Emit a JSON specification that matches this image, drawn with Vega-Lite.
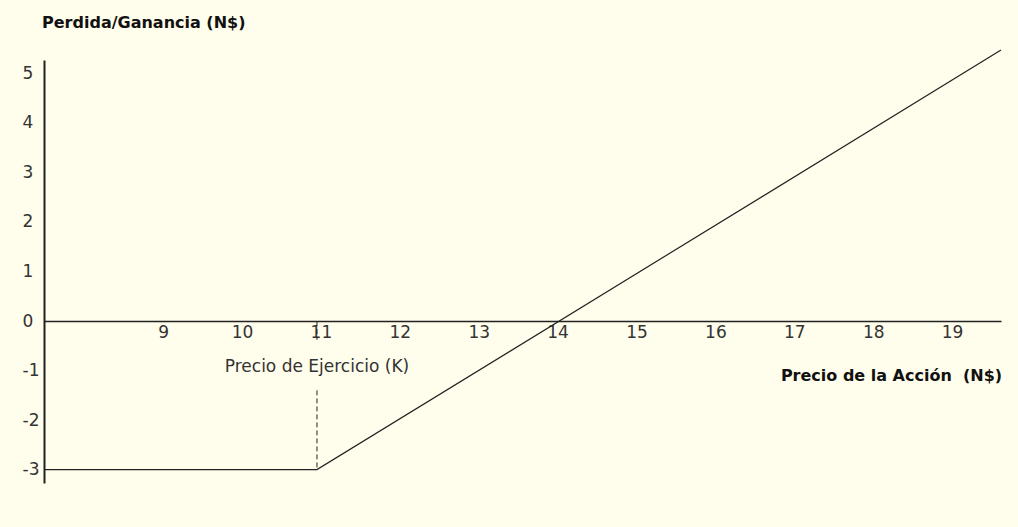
{
  "$schema": "https://vega.github.io/schema/vega-lite/v6.json",
  "width": 957,
  "height": 423,
  "autosize": {"type": "none"},
  "padding": {"left": 44, "top": 60, "right": 17, "bottom": 44},
  "background": "#FFFDEB",
  "config": {"view": {"stroke": null}, "font": "DejaVu Sans"},
  "datasets": {
    "payoff": [
      {"precio": 7.49, "pg": -3},
      {"precio": 10.95, "pg": -3},
      {"precio": 19.62, "pg": 5.47}
    ],
    "strike": [
      {"precio": 10.95, "y1": 0, "y2": -0.38},
      {"precio": 10.95, "y1": -1.4, "y2": -2.98}
    ],
    "labels_center": [
      {"precio": 10.95, "pg": -0.93, "texto": "Precio de Ejercicio (K)"}
    ],
    "labels_bold": [
      {"precio": 7.465, "pg": 6.02, "texto": "Perdida/Ganancia (N$)"},
      {"precio": 16.83, "pg": -1.11, "texto": "Precio de la Acción\u00a0 (N$)"}
    ]
  },
  "layer": [
    {
      "data": {"name": "payoff"},
      "mark": {"type": "line", "color": "#222222", "strokeWidth": 1.2},
      "encoding": {
        "x": {
          "field": "precio",
          "type": "quantitative",
          "scale": {"domain": [7.49, 19.62], "nice": false, "zero": false},
          "axis": {
            "orient": "bottom",
            "offset": -162,
            "values": [9, 10, 11, 12, 13, 14, 15, 16, 17, 18, 19],
            "labelExpr": "'' + datum.value",
            "domainColor": "#222222",
            "domainWidth": 1.5,
            "ticks": false,
            "tickSize": 0,
            "grid": false,
            "title": null,
            "labelFontSize": 17,
            "labelPadding": 3,
            "labelColor": "#333333",
            "labelFlush": false
          }
        },
        "y": {
          "field": "pg",
          "type": "quantitative",
          "scale": {"domain": [-3.27, 5.27], "nice": false, "zero": false},
          "axis": {
            "values": [-3, -2, -1, 0, 1, 2, 3, 4, 5],
            "labelExpr": "'' + datum.value",
            "domainColor": "#222222",
            "domainWidth": 2,
            "ticks": false,
            "tickSize": 0,
            "grid": false,
            "title": null,
            "labelAlign": "left",
            "labelBaseline": "middle",
            "labelPadding": 22,
            "labelFontSize": 17,
            "labelColor": "#333333",
            "labelFlush": false
          }
        }
      }
    },
    {
      "data": {"name": "strike"},
      "mark": {"type": "rule", "color": "#222222", "strokeWidth": 1, "strokeDash": [5, 3]},
      "encoding": {
        "x": {"field": "precio", "type": "quantitative"},
        "y": {"field": "y1", "type": "quantitative"},
        "y2": {"field": "y2"}
      }
    },
    {
      "data": {"name": "labels_center"},
      "mark": {"type": "text", "align": "center", "baseline": "middle", "fontSize": 17, "color": "#333333"},
      "encoding": {
        "x": {"field": "precio", "type": "quantitative"},
        "y": {"field": "pg", "type": "quantitative"},
        "text": {"field": "texto"}
      }
    },
    {
      "data": {"name": "labels_bold"},
      "mark": {"type": "text", "align": "left", "baseline": "middle", "fontSize": 16, "fontWeight": "bold", "color": "#111111"},
      "encoding": {
        "x": {"field": "precio", "type": "quantitative"},
        "y": {"field": "pg", "type": "quantitative"},
        "text": {"field": "texto"}
      }
    }
  ]
}
